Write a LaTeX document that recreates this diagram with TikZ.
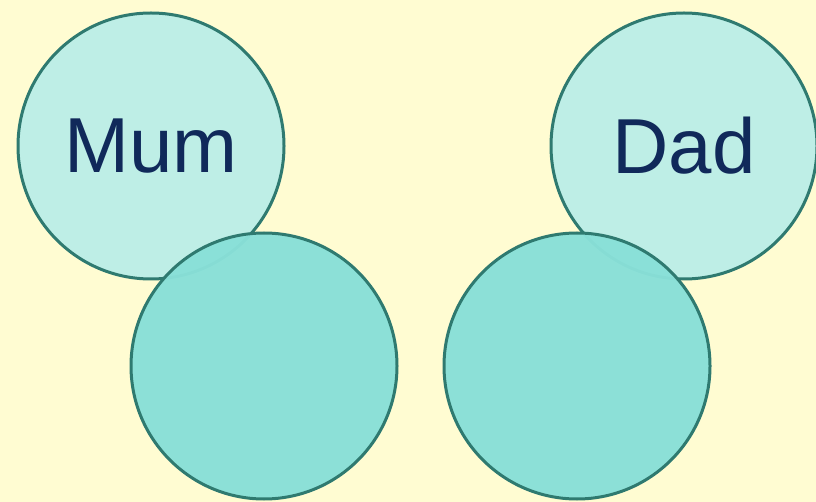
\documentclass[tikz,border=0pt]{standalone}
\usepackage{fontspec}
\setmainfont{Liberation Sans}
\definecolor{bgyellow}{HTML}{FFFCD2}
\definecolor{ringteal}{HTML}{2F7A70}
\definecolor{parentfill}{HTML}{BEEEE6}
\definecolor{childfill}{HTML}{89E0D8}
\definecolor{namenavy}{HTML}{10295A}
\begin{document}
\begin{tikzpicture}[x = 1pt, y = -1pt,
	parent/.style = {circle, draw = ringteal, line width = 3pt, fill = parentfill, minimum size = 266pt, inner sep = 0pt, text = namenavy, font = \fontsize{78}{82}\selectfont},
	child/.style = {circle, draw = ringteal, line width = 3pt, fill = childfill, fill opacity = 0.97, minimum size = 266pt, inner sep = 0pt}]
	\fill [bgyellow] (0,0) rectangle (816,502);
	\useasboundingbox (0,0) rectangle (816,502);
	\node [parent] (mum) at (151,146) {Mum};
	\node [parent] (dad) at (684,146) {Dad};
	\node [child] (leftchild) at (264,366) {};
	\node [child] (rightchild) at (577,366) {};
\end{tikzpicture}
\end{document}
